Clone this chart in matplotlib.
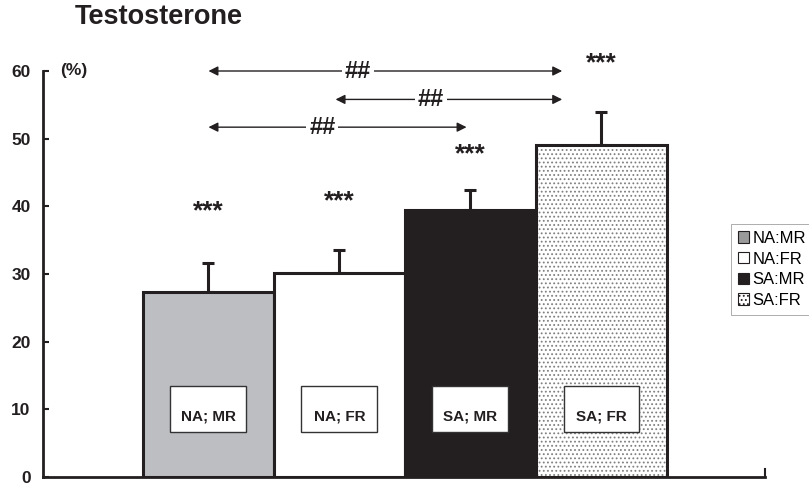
import matplotlib
matplotlib.use("Agg")
import matplotlib.pyplot as plt
from matplotlib.patches import Patch, Rectangle

plt.rcParams['font.family'] = ['Liberation Sans', 'DejaVu Sans']
plt.rcParams['hatch.linewidth'] = 0.8

# ---- data ----
groups = ["NA; MR", "NA; FR", "SA; MR", "SA; FR"]
legend_labels = ["NA:MR", "NA:FR", "SA:MR", "SA:FR"]
values = [27.4, 30.1, 39.4, 49.0]
errors = [4.2, 3.4, 3.0, 5.0]
star_labels = ["***", "***", "***", "***"]
star_y = [39.2, 40.8, 47.7, 61.1]
yticks = [0, 10, 20, 30, 40, 50, 60]
# comparison arrows: (x_start, x_end, y, text_x)
arrow_x0 = [1.0, 1.97, 1.0]
arrow_x1 = [3.70, 3.70, 2.97]
arrow_y = [60.0, 55.8, 51.7]
arrow_text_x = [2.14, 2.70, 1.87]
arrow_text = ["##", "##", "##"]

positions = [1, 2, 3, 4]
colors = ['#bdbec2', 'white', '#231f20', 'white']
hatches = [None, None, None, '....']

fig = plt.figure(figsize=(8.09, 4.90), dpi=100)
ax = fig.add_axes([43/809, 1-477/490, (765-43)/809, (477-71)/490])

for p, v, c, h in zip(positions, values, colors, hatches):
    b = ax.bar(p, v, width=1.0, color=c, edgecolor='#231f20', linewidth=2.2, hatch=h, zorder=2)
    if h:
        b[0]._hatch_color = matplotlib.colors.to_rgba('#808080')

ax.errorbar(positions, values, yerr=[[0]*4, errors], fmt='none', ecolor='#231f20',
            elinewidth=2.2, capsize=4, capthick=2.2, zorder=1)

for p, s, sy in zip(positions, star_labels, star_y):
    ax.text(p, sy, s, ha='center', va='center', fontsize=19, fontweight='bold', color='#231f20')

# label boxes inside bars
for p, g in zip(positions, groups):
    ax.add_patch(Rectangle((p-0.29, 6.6), 0.58, 6.8, facecolor='white', edgecolor='#333333',
                           linewidth=1.0, zorder=3))
    ax.text(p, 8.9, g, ha='center', va='center', fontsize=11, fontweight='bold',
            color='#231f20', zorder=4)

# arrows
for x0, x1, y, tx, t in zip(arrow_x0, arrow_x1, arrow_y, arrow_text_x, arrow_text):
    ax.annotate('', xy=(x0, y), xytext=(x1, y),
                arrowprops=dict(arrowstyle='<|-|>', color='#231f20', lw=1.0,
                                mutation_scale=14, shrinkA=0, shrinkB=0),
                annotation_clip=False)
    ax.text(tx, y, t, ha='center', va='center', fontsize=17, fontweight='bold', color='#231f20',
            bbox=dict(facecolor='white', edgecolor='none', pad=2))

ax.set_xlim(-0.263, 5.248)
ax.set_ylim(0, 60)
ax.set_yticks(yticks)
ax.set_yticklabels([str(t) for t in yticks], fontsize=12.5, fontweight='bold', color='#231f20')
ax.tick_params(axis='y', direction='in', length=4, width=1.5, pad=9, colors='#231f20')
ax.set_xticks([])
for s in ['top', 'right']:
    ax.spines[s].set_visible(False)
for s in ['left', 'bottom']:
    ax.spines[s].set_linewidth(2.0)
    ax.spines[s].set_color('#231f20')
# small end mark on the x-axis
ax.plot([5.248, 5.248], [0, 1.2], color='#231f20', lw=1.5, clip_on=False)

ax.annotate('(%)', xy=(0, 60), xycoords=('axes fraction', 'data'), xytext=(17, 1),
            textcoords='offset pixels', ha='left', va='center', fontsize=12.5,
            fontweight='bold', color='#231f20')

fig.text(75/809, 1-17/490, 'Testosterone', ha='left', va='center', fontsize=19.5,
         fontweight='bold', color='#231f20')

handles = [Patch(facecolor=c, edgecolor='#231f20', hatch=h, linewidth=0.8)
           for c, h in zip(['#9a9a9a', 'white', '#231f20', 'white'], [None, None, None, '....'])]
leg = fig.legend(handles, legend_labels, loc='upper left', bbox_to_anchor=(731/809, 1-224/490),
                 fontsize=12, frameon=True, fancybox=False, edgecolor='#888888',
                 handlelength=0.7, handleheight=0.7, handletextpad=0.2, labelspacing=0.35,
                 borderpad=0.4, borderaxespad=0)
leg.get_frame().set_linewidth(0.6)

fig.savefig('out.png', dpi=100)
